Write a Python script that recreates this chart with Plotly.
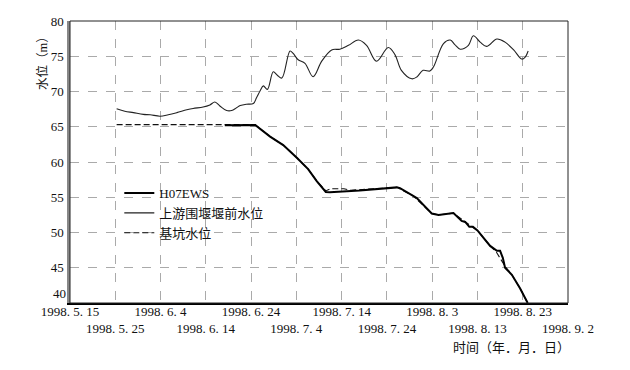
import pandas as pd
import plotly.graph_objects as go

BASE = pd.Timestamp("1998-05-15")

# 上游围堰堰前水位 (days after 1998-05-15, water level m)
up_days = [10.3, 12.1, 14.0, 16.2, 17.7, 19.9, 21.7, 23.6, 25.8, 27.2, 29.4, 30.9, 32.0, 33.1,
           34.6, 35.7, 36.8, 37.6, 39.0, 40.5, 41.2, 42.0, 42.7, 43.6, 44.9, 45.8, 46.8, 48.6,
           49.3, 50.4, 51.9, 53.7, 55.6, 57.8, 59.6, 61.5, 63.7, 65.5, 67.7, 70.3, 71.8, 73.2,
           75.5, 76.6, 78.0, 79.5, 80.3, 82.5, 84.0, 85.0, 86.2, 88.0, 89.1, 90.6, 92.0, 94.3,
           96.1, 98.0, 99.8, 100.5, 101.2]
up_level = [67.55, 67.2, 67.0, 66.75, 66.7, 66.5, 66.7, 67.0, 67.4, 67.6, 67.8, 68.1, 68.5, 67.95,
            67.3, 67.3, 67.7, 68.0, 68.2, 68.3, 69.1, 70.1, 70.8, 70.3, 72.8, 72.3, 71.9, 75.75,
            75.4, 74.5, 74.0, 72.1, 74.3, 75.9, 76.0, 76.55, 77.3, 76.55, 74.3, 76.25, 75.2, 73.0,
            71.8, 72.05, 73.0, 72.9, 73.5, 76.8, 77.3, 76.65, 76.0, 76.55, 77.9, 77.0, 76.4, 77.45,
            77.0, 75.9, 74.6, 74.85, 75.75]

# H07EWS
h07_days = [34.2, 40.9, 44.2, 47.1, 50.1, 52.6, 54.5, 56.5, 57.4, 64.0, 72.2, 72.9, 75.8, 76.6,
            79.9, 81.4, 84.7, 86.5, 87.3, 88.2, 89.0, 90.0, 92.8, 94.3, 95.0, 95.6, 96.1, 97.6,
            99.4, 101.1]
h07_level = [65.2, 65.25, 63.6, 62.4, 60.6, 59.0, 57.3, 55.75, 55.7, 55.95, 56.4, 56.3, 55.2, 54.9,
             52.7, 52.5, 52.75, 51.65, 51.5, 50.8, 50.8, 50.3, 48.1, 47.4, 47.4, 46.4, 45.0, 44.0,
             42.1, 40.0]

# 基坑水位
pit_days = [10.3, 40.9, 44.2, 47.1, 50.1, 52.6, 54.5, 56.5, 57.5, 60.5, 62.0, 72.2, 75.8, 79.9,
            81.4, 84.7, 87.3, 90.0, 92.8, 94.2, 96.1, 97.6, 99.4, 101.1]
pit_level = [65.3, 65.3, 63.6, 62.4, 60.6, 59.0, 57.3, 55.9, 56.2, 56.2, 56.0, 56.4, 55.2, 52.7,
             52.5, 52.75, 51.5, 50.3, 48.1, 47.2, 45.2, 44.0, 42.1, 40.0]

tick_dates = ["1998-05-15", "1998-05-25", "1998-06-04", "1998-06-14", "1998-06-24", "1998-07-04",
              "1998-07-14", "1998-07-24", "1998-08-03", "1998-08-13", "1998-08-23", "1998-09-02"]
tick_labels = ["1998. 5. 15", "1998. 5. 25", "1998. 6. 4", "1998. 6. 14", "1998. 6. 24",
               "1998. 7. 4", "1998. 7. 14", "1998. 7. 24", "1998. 8. 3", "1998. 8. 13",
               "1998. 8. 23", "1998. 9. 2"]
y_ticks = [40, 45, 50, 55, 60, 65, 70, 75, 80]


def to_dates(days):
    return [BASE + pd.Timedelta(days=d) for d in days]


FONT = "Liberation Serif, 'Noto Sans CJK SC', serif"

fig = go.Figure()
fig.add_trace(go.Scatter(x=to_dates(pit_days), y=pit_level, mode="lines", name="基坑水位",
                         line=dict(color="#111", width=1.1, dash="6px,3px"), legendrank=3))
fig.add_trace(go.Scatter(x=to_dates(up_days), y=up_level, mode="lines", name="上游围堰堰前水位",
                         line=dict(color="#222", width=1.1, shape="spline", smoothing=1.0),
                         legendrank=2))
fig.add_trace(go.Scatter(x=to_dates(h07_days), y=h07_level, mode="lines", name="H07EWS",
                         line=dict(color="#000", width=2), legendrank=1))

ticktext = [t if i % 2 == 0 else "<br>" + t for i, t in enumerate(tick_labels)]
ytext = ["" if v == y_ticks[0] else str(v) for v in y_ticks]

# page body adds an 8px margin, so the figure is 8px smaller and margins compensate
fig.update_layout(
    width=622, height=362,
    margin=dict(l=62, r=62, t=13, b=67, autoexpand=False),
    paper_bgcolor="white", plot_bgcolor="white",
    font=dict(family=FONT, size=13, color="#111"),
    showlegend=True,
    legend=dict(x=0.099, y=0.443, xanchor="left", yanchor="top",
                bgcolor="rgba(0,0,0,0)", font=dict(size=13, family=FONT),
                itemwidth=30, tracegroupgap=0),
    xaxis=dict(
        type="date", automargin=False,
        range=[BASE, BASE + pd.Timedelta(days=110)],
        tickvals=tick_dates, ticktext=ticktext, tickangle=0,
        showgrid=True, gridcolor="#aaaaaa", griddash="dash", gridwidth=1,
        showline=True, linecolor="#000", linewidth=1.5,
        ticks="", ticklabelstandoff=-4, tickfont=dict(size=13, family=FONT),
        zeroline=False,
    ),
    yaxis=dict(
        automargin=False,
        range=[40, 80], tickvals=y_ticks, ticktext=ytext,
        showgrid=True, gridcolor="#aaaaaa", griddash="dash", gridwidth=1,
        showline=True, linecolor="#888", linewidth=2.5,
        ticks="", ticklabelstandoff=1, tickfont=dict(size=13, family=FONT),
        zeroline=False,
    ),
    shapes=[dict(type="rect", xref="paper", yref="paper", x0=0, y0=0, x1=1, y1=1,
                 line=dict(color="#222", width=1), layer="above")],
    annotations=[
        dict(text=str(y_ticks[0]), xref="paper", yref="y", x=0, y=y_ticks[0],
             xanchor="right", yanchor="bottom", xshift=-2, showarrow=False,
             font=dict(size=13, family=FONT)),
        dict(text="水位（m）", xref="paper", yref="paper", x=-0.054, y=0.862,
             xanchor="center", yanchor="middle", textangle=-90, showarrow=False,
             font=dict(size=12.5, family=FONT)),
        dict(text="时间（年．月．日）", xref="paper", yref="paper", x=1.008, y=-0.125,
             xanchor="right", yanchor="top", showarrow=False,
             font=dict(size=13, family=FONT)),
    ],
)

fig.write_html("out.html")
